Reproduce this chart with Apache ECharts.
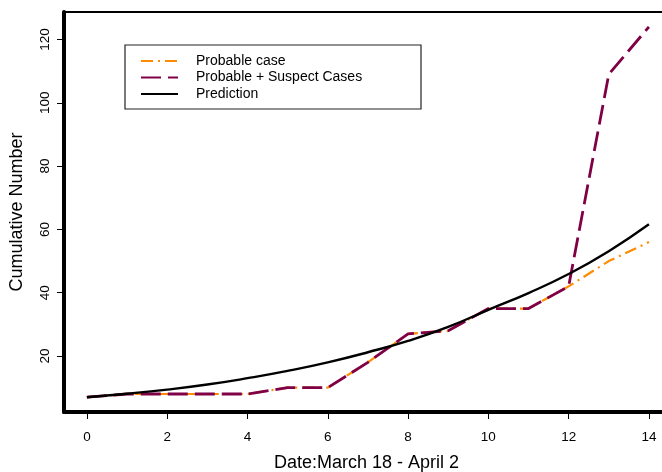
<!DOCTYPE html>
<html>
<head>
<meta charset="utf-8">
<script src="https://cdn.jsdelivr.net/npm/echarts@6/dist/echarts.min.js"></script>
<style>
  html, body { margin: 0; padding: 0; background: #fff; }
  #chart { width: 662px; height: 472px; }
</style>
</head>
<body>
<div id="chart"></div>
<script>
  // 数据
  const days = [0, 1, 2, 3, 4, 5, 6, 7, 8, 9, 10, 11, 12, 13, 14];
  const probable = [7, 8, 8, 8, 8, 10, 10, 18, 27, 28, 35, 35, 42, 50, 56];
  const suspect = [7, 8, 8, 8, 8, 10, 10, 18, 27, 28, 35, 35, 42, 109, 124];
  const prediction = [7.0, 8.1, 9.4, 11.0, 13.0, 15.3, 18.0, 21.2, 24.8, 29.2, 34.6, 39.9, 45.9, 53.1, 61.6];
  const xTicks = [0, 2, 4, 6, 8, 10, 12, 14];
  const yTicks = [20, 40, 60, 80, 100, 120];

  const pairs = (ys) => days.map((d, i) => [d, ys[i]]);
  const font = 'Liberation Sans, Arial, Helvetica, sans-serif';

  const chart = echarts.init(document.getElementById('chart'));

  chart.setOption({
    animation: false,
    backgroundColor: '#fff',
    textStyle: { fontFamily: font, color: '#000' },
    grid: { left: 64, top: 12, right: -7, bottom: 60, outerBoundsMode: 'none', containLabel: false },
    graphic: [{
      type: 'rect',
      shape: { x: 125, y: 45, width: 296, height: 64 },
      style: { fill: '#fff', stroke: '#222', lineWidth: 1.2 },
      z: 5
    }],
    legend: {
      orient: 'vertical',
      left: 140,
      top: 54,
      itemWidth: 37,
      itemHeight: 13,
      itemGap: 2.5,
      padding: 0,
      z: 10,
      itemStyle: { color: 'transparent', borderWidth: 0, opacity: 0 },
      textStyle: { fontFamily: font, fontSize: 14, color: '#000', padding: [0, 0, 0, 13] },
      data: ['Probable case', 'Probable + Suspect Cases', 'Prediction']
    },
    xAxis: [{
      type: 'value',
      min: -0.57,
      max: 14.5,
      name: 'Date:March 18 - April 2',
      nameLocation: 'middle',
      nameGap: 42,
      nameTextStyle: { fontSize: 18, fontFamily: font, color: '#000' },
      axisLine: { onZero: false, lineStyle: { color: '#000', width: 4 } },
      axisTick: { show: true, length: 7, lineStyle: { color: '#000', width: 1 }, customValues: xTicks },
      axisLabel: { fontSize: 13.5, color: '#000', margin: 18, customValues: xTicks },
      splitLine: { show: false }
    }, {
      type: 'value',
      position: 'top',
      min: -0.57,
      max: 14.5,
      axisLine: { onZero: false, lineStyle: { color: '#000', width: 2 } },
      axisTick: { show: false },
      axisLabel: { show: false },
      splitLine: { show: false }
    }],
    yAxis: {
      type: 'value',
      min: 2.32,
      max: 128.68,
      name: 'Cumulative Number',
      nameLocation: 'middle',
      nameGap: 38,
      nameTextStyle: { fontSize: 18, fontFamily: font, color: '#000' },
      axisLine: { show: true, onZero: false, lineStyle: { color: '#000', width: 4 } },
      axisTick: { show: true, length: 7, lineStyle: { color: '#000', width: 1 }, customValues: yTicks },
      axisLabel: { fontSize: 13.5, color: '#000', rotate: 90, margin: 12, customValues: yTicks },
      splitLine: { show: false }
    },
    series: [{
      name: 'Probable case',
      type: 'line',
      data: pairs(probable),
      symbol: 'none',
      color: '#ff8c00',
      lineStyle: { color: '#ff8c00', width: 2.2, type: [12, 5, 2, 5] },
      z: 2
    }, {
      name: 'Probable + Suspect Cases',
      type: 'line',
      data: pairs(suspect),
      symbol: 'none',
      color: '#800046',
      lineStyle: { color: '#800046', width: 2.8, type: [20, 7] },
      z: 3
    }, {
      name: 'Prediction',
      type: 'line',
      data: pairs(prediction),
      symbol: 'none',
      smooth: true,
      color: '#000',
      lineStyle: { color: '#000', width: 2.4 },
      z: 4
    }]
  });
</script>
</body>
</html>
